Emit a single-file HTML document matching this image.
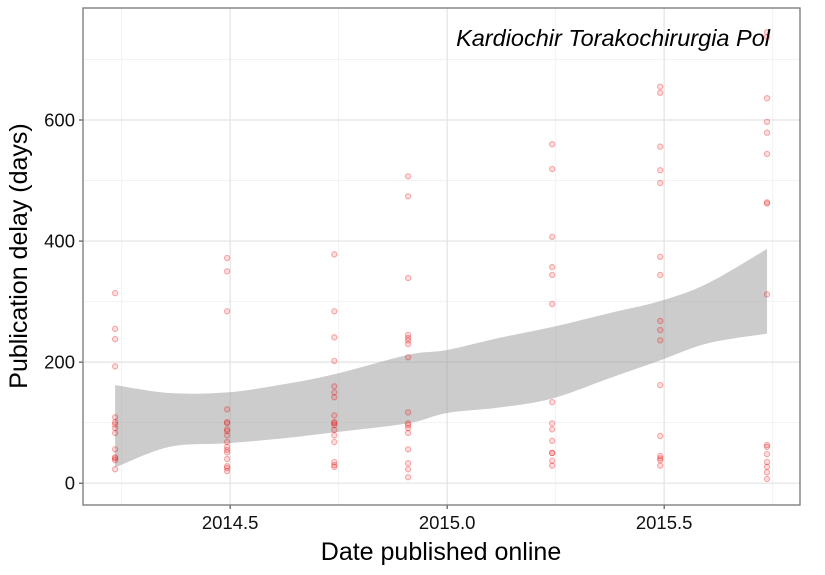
<!DOCTYPE html>
<html><head><meta charset="utf-8"><style>
body{margin:0;background:#fff;font-family:"Liberation Sans",sans-serif}
</style></head><body>
<svg id="chart" width="825" height="570" xmlns="http://www.w3.org/2000/svg"></svg>
<script>
const colDates=[2014.235,2014.493,2014.74,2014.91,2015.242,2015.491,2015.737];
const colValues=[
[314,255,238,193,109,101,97,91,83,56,43,41,38,23],
[372,350,284,122,101,99,89,86,79,68,60,55,51,40,28,25,20],
[378,284,241,202,160,150,142,112,101,99,96,88,79,68,35,30,27],
[507,474,339,245,240,236,230,208,117,99,96,91,83,56,33,23,10],
[560,519,407,357,344,296,134,99,89,70,50,50,37,29],
[655,645,556,517,496,374,344,268,253,236,162,78,45,41,38,29],
[745,737,636,597,579,544,464,462,312,63,60,48,35,27,18,7]];
const ribbonX=[2014.235,2014.36,2014.493,2014.62,2014.74,2014.91,2015.0,2015.12,2015.242,2015.38,2015.491,2015.6,2015.737];
const ribbonUpper=[162,149,150,163,180,212,220,240,258,282,301,330,387];
const ribbonLower=[26,60,66,74,84,99,116,125,140,175,203,231,247];
const yTicks=[0,200,400,600];
const yMinor=[100,300,500,700];
const xTicks=[2014.5,2015.0,2015.5];
const xTickLabels=["2014.5","2015.0","2015.5"];
const xMinor=[2014.25,2014.75,2015.25,2015.75];

const L=83,R=800,T=8,B=505;
const xMin=2014.161,xMax=2015.813,yMin=-36,yMax=785;
const sx=v=>L+(v-xMin)/(xMax-xMin)*(R-L);
const sy=v=>B-(v-yMin)/(yMax-yMin)*(B-T);
const svg=document.getElementById('chart');
const NS='http://www.w3.org/2000/svg';
function mk(tag,attrs,parent){const e=document.createElementNS(NS,tag);for(const k in attrs)e.setAttribute(k,attrs[k]);(parent||svg).appendChild(e);return e;}
function spline(p){let d='';for(let i=0;i<p.length-1;i++){const p0=p[Math.max(0,i-1)],p1=p[i],p2=p[i+1],p3=p[Math.min(p.length-1,i+2)];
const c1=[p1[0]+(p2[0]-p0[0])/6,p1[1]+(p2[1]-p0[1])/6],c2=[p2[0]-(p3[0]-p1[0])/6,p2[1]-(p3[1]-p1[1])/6];
d+=' C'+c1+' '+c2+' '+p2;}return d;}

let g;
yMinor.forEach(v=>{g=mk('line',{x1:L,x2:R,y1:sy(v),y2:sy(v),stroke:'#f2f2f2','stroke-width':1});

});
xMinor.forEach(v=>{g=mk('line',{x1:sx(v),x2:sx(v),y1:T,y2:B,stroke:'#f2f2f2','stroke-width':1});

});
yTicks.forEach(v=>{g=mk('line',{x1:L,x2:R,y1:sy(v),y2:sy(v),stroke:'#e3e3e3','stroke-width':1.2});


g=mk('line',{x1:L-4,x2:L,y1:sy(v),y2:sy(v),stroke:'#333','stroke-width':1});


g=mk('text',{x:L-8,y:sy(v)+6.5,'text-anchor':'end','font-size':18.5,fill:'#111'});g.textContent=v;

});
xTicks.forEach((v,i)=>{g=mk('line',{x1:sx(v),x2:sx(v),y1:T,y2:B,stroke:'#e3e3e3','stroke-width':1.2});


g=mk('line',{x1:sx(v),x2:sx(v),y1:B,y2:B+4,stroke:'#333','stroke-width':1});


g=mk('text',{x:sx(v),y:B+24,'text-anchor':'middle','font-size':18.5,fill:'#111'});g.textContent=xTickLabels[i];

});

const up=ribbonX.map((x,i)=>[sx(x),sy(ribbonUpper[i])]);
const lo=ribbonX.map((x,i)=>[sx(x),sy(ribbonLower[i])]).reverse();
const d='M'+up[0]+spline(up)+' L'+lo[0]+spline(lo)+' Z';
g=mk('path',{d:d,fill:'#999','fill-opacity':0.5});



colDates.forEach((dd,i)=>colValues[i].forEach(v=>{
g=mk('circle',{cx:sx(dd),cy:sy(v),r:2.6,fill:'rgba(255,0,0,0.12)',stroke:'rgba(230,0,0,0.3)','stroke-width':1.2});

}));

g=mk('rect',{x:L,y:T,width:R-L,height:B-T,fill:'none',stroke:'#777','stroke-width':1.3});



g=mk('text',{x:770,y:46,'text-anchor':'end','font-size':23.5,'font-style':'italic',fill:'#000'});g.textContent='Kardiochir Torakochirurgia Pol';


g=mk('text',{x:441,y:560,'text-anchor':'middle','font-size':25,fill:'#000'});g.textContent='Date published online';


g=mk('text',{x:0,y:0,'text-anchor':'middle','font-size':25,fill:'#000',transform:'translate(27,256) rotate(-90)'});g.textContent='Publication delay (days)';


</script>
</body></html>
